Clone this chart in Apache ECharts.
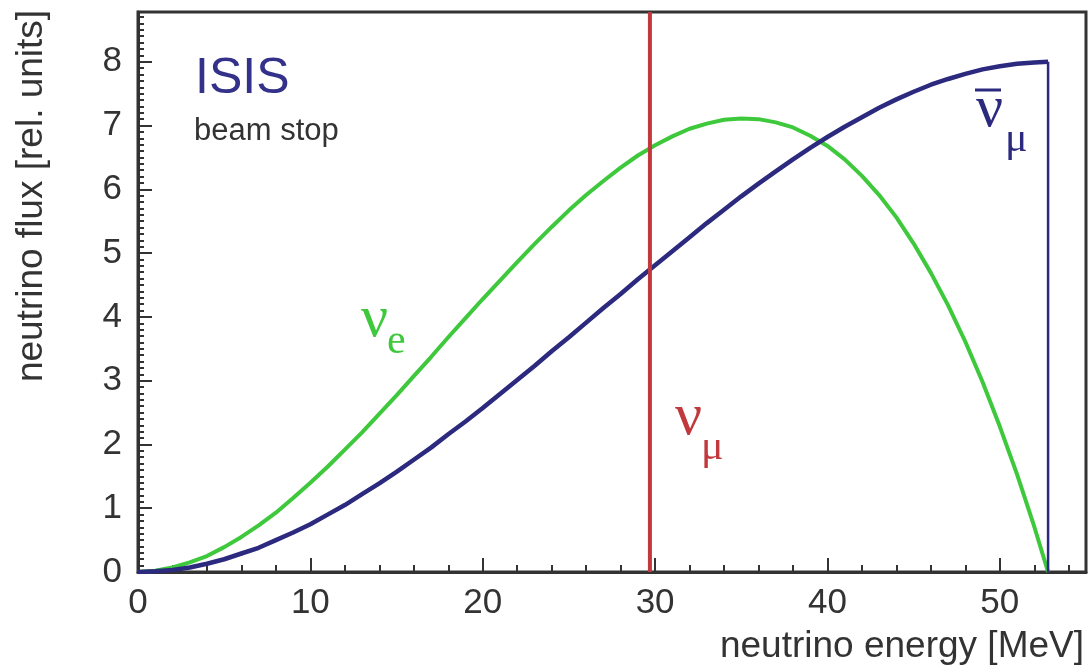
<!DOCTYPE html>
<html>
<head>
<meta charset="utf-8">
<title>ISIS beam stop neutrino flux</title>
<script src="https://cdn.jsdelivr.net/npm/echarts@6/dist/echarts.min.js"></script>
<style>
  html, body { margin: 0; padding: 0; background: #fff; }
  #chart { width: 1092px; height: 669px; }
</style>
</head>
<body>
<div id="chart"></div>
<script>
// Neutrino energy samples [MeV]
const energy = [0, 1, 2, 3, 4, 5, 6, 7, 8, 9, 10, 11, 12, 13, 14, 15, 16, 17, 18, 19, 20,
  21, 22, 23, 24, 25, 26, 27, 28, 29, 30, 31, 32, 33, 34, 35, 36, 37, 38, 39, 40,
  41, 42, 43, 44, 45, 46, 47, 48, 49, 50, 51, 52, 52.8];
// nu_e flux [rel. units]
const fluxNuE = [0, 0.02, 0.07, 0.15, 0.25, 0.39, 0.55, 0.73, 0.93, 1.16, 1.40, 1.65, 1.92, 2.19, 2.48, 2.77, 3.07, 3.37, 3.68, 3.98, 4.28,
  4.57, 4.86, 5.14, 5.41, 5.67, 5.91, 6.13, 6.34, 6.53, 6.69, 6.83, 6.95, 7.03, 7.09, 7.11, 7.10, 7.05, 6.97, 6.84, 6.68,
  6.47, 6.21, 5.91, 5.56, 5.15, 4.69, 4.18, 3.61, 2.98, 2.28, 1.53, 0.71, 0];
// anti-nu_mu flux [rel. units]
const fluxAntiNuMu = [0, 0.01, 0.03, 0.07, 0.13, 0.20, 0.29, 0.38, 0.50, 0.62, 0.75, 0.90, 1.05, 1.22, 1.39, 1.57, 1.76, 1.95, 2.16, 2.36, 2.57,
  2.79, 3.01, 3.23, 3.46, 3.68, 3.91, 4.14, 4.36, 4.59, 4.81, 5.03, 5.25, 5.47, 5.68, 5.89, 6.09, 6.28, 6.47, 6.65, 6.82,
  6.98, 7.13, 7.28, 7.41, 7.53, 7.64, 7.73, 7.81, 7.88, 7.93, 7.97, 7.99, 8.00];
// monoenergetic nu_mu line from pion decay at rest [MeV]
const nuMuEnergy = 29.7;
// axis ranges and tick labels
const xMin = 0, xMax = 55;
const yMin = 0, yMax = 8.78;
const xTickLabels = ['0', '10', '20', '30', '40', '50'];
const yTickLabels = ['0', '1', '2', '3', '4', '5', '6', '7', '8'];

const colNuE = '#3ec83c';
const colAntiNuMu = '#2c2a7e';
const colNuMu = '#c1393d';
const ink = '#333333';
const sans = 'Liberation Sans, Arial, sans-serif';
const serif = 'Liberation Serif, Times New Roman, serif';

const pairs = (xs, ys) => xs.map((x, i) => [x, ys[i]]);
const lastE = energy[energy.length - 1];
const lastAnti = fluxAntiNuMu[fluxAntiNuMu.length - 1];

const chart = echarts.init(document.getElementById('chart'), null, { renderer: 'canvas' });

const tick = (len) => ({ show: true, inside: true, length: len, lineStyle: { color: ink, width: 2 } });

chart.setOption({
  animation: false,
  backgroundColor: '#ffffff',
  grid: { left: 138, right: 6, top: 12, bottom: 97, show: true, borderColor: ink, borderWidth: 3, backgroundColor: 'transparent' },
  xAxis: [
    {
      type: 'value', min: xMin, max: xMax, interval: 10,
      axisLine: { show: true, lineStyle: { color: ink, width: 3 } },
      axisTick: tick(14),
      splitLine: { show: false },
      axisLabel: {
        showMaxLabel: false, margin: 14, fontSize: 35, color: ink, fontFamily: sans,
        formatter: (v) => xTickLabels[Math.round(v / 10)] ?? ''
      }
    },
    {
      type: 'value', min: xMin, max: xMax, interval: 2, position: 'bottom',
      axisLine: { show: false },
      axisTick: tick(7),
      axisLabel: { show: false },
      splitLine: { show: false }
    }
  ],
  yAxis: [
    {
      type: 'value', min: yMin, max: yMax, interval: 1,
      axisLine: { show: true, lineStyle: { color: ink, width: 3 } },
      axisTick: tick(14),
      splitLine: { show: false },
      axisLabel: {
        showMaxLabel: false, margin: 16, fontSize: 35, color: ink, fontFamily: sans,
        formatter: (v) => yTickLabels[Math.round(v)] ?? ''
      }
    },
    {
      type: 'value', min: yMin, max: yMax, interval: 0.1, position: 'left',
      axisLine: { show: false },
      axisTick: tick(6),
      axisLabel: { show: false },
      splitLine: { show: false }
    }
  ],
  series: [
    {
      name: 'nu_e', type: 'line', xAxisIndex: 0, yAxisIndex: 0,
      data: pairs(energy, fluxNuE), showSymbol: false,
      lineStyle: { color: colNuE, width: 4 }, z: 3
    },
    {
      name: 'anti-nu_mu', type: 'line', xAxisIndex: 0, yAxisIndex: 0,
      data: pairs(energy, fluxAntiNuMu), showSymbol: false,
      lineStyle: { color: colAntiNuMu, width: 4.5 }, z: 3
    },
    {
      name: 'anti-nu_mu edge', type: 'line', xAxisIndex: 0, yAxisIndex: 0,
      data: [[lastE, lastAnti], [lastE, 0]], showSymbol: false,
      lineStyle: { color: colAntiNuMu, width: 2.5 }, z: 3
    },
    {
      name: 'nu_mu', type: 'line', xAxisIndex: 0, yAxisIndex: 0,
      data: [[nuMuEnergy, yMin], [nuMuEnergy, yMax]], showSymbol: false,
      lineStyle: { color: colNuMu, width: 4 }, z: 4
    }
  ],
  graphic: [
    // axis titles
    { type: 'text', x: 32, y: 196, rotation: Math.PI / 2,
      style: { text: 'neutrino flux [rel. units]', font: '37px ' + sans, fill: ink, align: 'center', verticalAlign: 'middle' } },
    { type: 'text', x: 1084, y: 647,
      style: { text: 'neutrino energy [MeV]', font: '37px ' + sans, fill: ink, align: 'right', verticalAlign: 'middle' } },
    // facility label
    { type: 'text', x: 195, y: 79,
      style: { text: 'ISIS', font: '50px ' + sans, fill: '#34318a', align: 'left', verticalAlign: 'middle' } },
    { type: 'text', x: 194, y: 131,
      style: { text: 'beam stop', font: '31px ' + sans, fill: ink, align: 'left', verticalAlign: 'middle' } },
    // nu_e label
    { type: 'text', x: 361, y: 320,
      style: { text: 'ν', font: '60px ' + serif, fill: colNuE, align: 'left', verticalAlign: 'middle' } },
    { type: 'text', x: 387, y: 342,
      style: { text: 'e', font: '42px ' + serif, fill: colNuE, align: 'left', verticalAlign: 'middle' } },
    // nu_mu label
    { type: 'text', x: 675, y: 418,
      style: { text: 'ν', font: '60px ' + serif, fill: colNuMu, align: 'left', verticalAlign: 'middle' } },
    { type: 'text', x: 701, y: 448,
      style: { text: 'μ', font: '42px ' + serif, fill: colNuMu, align: 'left', verticalAlign: 'middle' } },
    // anti-nu_mu label
    { type: 'text', x: 976, y: 110,
      style: { text: 'ν', font: '60px ' + serif, fill: colAntiNuMu, align: 'left', verticalAlign: 'middle' } },
    { type: 'line', shape: { x1: 975, y1: 90, x2: 1001, y2: 90 },
      style: { stroke: colAntiNuMu, lineWidth: 3 } },
    { type: 'text', x: 1005, y: 140,
      style: { text: 'μ', font: '42px ' + serif, fill: colAntiNuMu, align: 'left', verticalAlign: 'middle' } }
  ]
});
</script>
</body>
</html>
